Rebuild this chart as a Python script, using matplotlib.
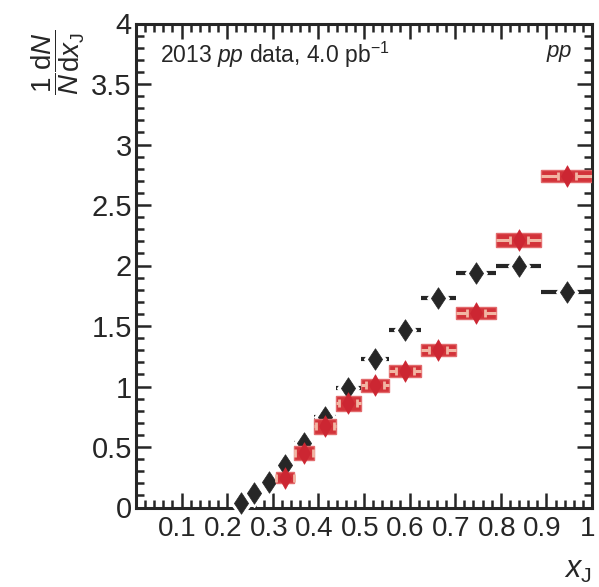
import matplotlib
matplotlib.use("Agg")
import matplotlib.pyplot as plt
import numpy as np
from matplotlib.path import Path
from matplotlib.transforms import offset_copy, ScaledTranslation
from matplotlib.ticker import MultipleLocator, FuncFormatter

plt.rcParams['font.family'] = ['Liberation Sans', 'DejaVu Sans']
plt.rcParams['mathtext.fontset'] = 'custom'
plt.rcParams['mathtext.rm'] = 'Liberation Sans'
plt.rcParams['mathtext.it'] = 'Liberation Sans:italic'

# ---- data ----
bin_edges = [0.216, 0.243, 0.274, 0.308, 0.346, 0.390, 0.438, 0.493,
             0.555, 0.624, 0.702, 0.790, 0.889, 1.0]
black_vals = [0.04, 0.12, 0.21, 0.35, 0.53, 0.75, 0.99, 1.23, 1.47, 1.73,
              1.94, 2.00, 1.78]
red_first_bin = 3
red_vals = [0.245, 0.45, 0.67, 0.86, 1.01, 1.13, 1.30, 1.61, 2.21, 2.74]
red_syst = [0.045, 0.055, 0.065, 0.065, 0.055, 0.05, 0.05, 0.05, 0.055, 0.05]
x_ticks = [0.1, 0.2, 0.3, 0.4, 0.5, 0.6, 0.7, 0.8, 0.9, 1.0]
y_ticks = [0, 0.5, 1, 1.5, 2, 2.5, 3, 3.5, 4]

# ---- styles ----
BLACK = '#262626'
BOX = '#d3333a'
BOX_EDGE = '#e26a6c'
RED_M = '#cc2632'
PALE = '#f2b6a4'

edges = np.array(bin_edges)
lo, hi = edges[:-1], edges[1:]
cent = 0.5 * (lo + hi)
rlo, rhi, rcent = lo[red_first_bin:], hi[red_first_bin:], cent[red_first_bin:]
rv = np.array(red_vals)
rs = np.array(red_syst)

W, H = 599, 587
fig = plt.figure(figsize=(W / 100, H / 100), dpi=100)
ax = fig.add_axes([136 / W, 1 - 507.5 / H, 456 / W, 484 / H])
ax.set_xlim(0, 1)
ax.set_ylim(0, 4)

def diamond(r):
    return Path([(0, 1), (r, 0), (0, -1), (-r, 0), (0, 1)],
                [Path.MOVETO, Path.LINETO, Path.LINETO, Path.LINETO, Path.CLOSEPOLY])

# black points: horizontal bars with a gap around the marker
ax.hlines(black_vals, lo, hi, color=BLACK, lw=3, zorder=3)
ax.plot(cent, black_vals, ls='none', marker=diamond(0.78), ms=20, color='white',
        mec='white', zorder=4, clip_on=False)
ax.plot(cent, black_vals, ls='none', marker=diamond(0.66), ms=15.5, color=BLACK,
        mec=BLACK, mew=0.5, zorder=5, clip_on=False)

# red points with systematic boxes
ax.bar(rcent, 2 * rs, bottom=rv - rs, width=rhi - rlo, color=BOX,
       edgecolor=BOX_EDGE, linewidth=1.0, zorder=6)
ax.hlines(rv, rlo, rhi, color=PALE, lw=2.2, zorder=7)
flat = Path([(-1, -0.2), (1, -0.2), (1, 0.2), (-1, 0.2), (-1, -0.2)],
            [Path.MOVETO, Path.LINETO, Path.LINETO, Path.LINETO, Path.CLOSEPOLY])
ax.plot(rcent, rv, ls='none', marker=flat, ms=13, color=BOX, mec=BOX, zorder=8)
for dx in (-6.5, 6.5):
    tr = offset_copy(ax.transData, fig=fig, x=dx, y=0, units='points')
    ax.plot(rcent, rv, ls='none', marker='|', ms=6, mew=2, color=PALE,
            transform=tr, zorder=9)
ax.plot(rcent, rv, ls='none', marker=diamond(0.55), ms=15.5, color=RED_M,
        mec=RED_M, mew=0.5, zorder=10, clip_on=False)

# axes styling
for s in ax.spines.values():
    s.set_linewidth(2.2)
    s.set_color(BLACK)
    s.set_zorder(2)
ax.set_xticks(x_ticks)
ax.set_yticks(y_ticks)
ax.xaxis.set_minor_locator(MultipleLocator(0.02))
ax.yaxis.set_minor_locator(MultipleLocator(0.1))
fmt = FuncFormatter(lambda v, p: '%g' % v)
ax.xaxis.set_major_formatter(fmt)
ax.yaxis.set_major_formatter(fmt)
ax.tick_params(which='both', direction='in', top=True, right=True,
               width=1.8, color=BLACK, labelcolor=BLACK)
ax.tick_params(axis='x', labelsize=20, pad=6)
ax.tick_params(axis='y', labelsize=21, pad=3)
ax.tick_params(which='major', length=11)
ax.tick_params(which='minor', length=6)
shift = ScaledTranslation(-4 / 100, 0, fig.dpi_scale_trans)
for lab in ax.get_xticklabels():
    lab.set_transform(lab.get_transform() + shift)

ax.text(0.053, 0.935, r'2013 $pp$ data, 4.0 pb$^{\mathregular{-1}}$',
        transform=ax.transAxes, fontsize=16.5, ha='left', va='center', color=BLACK)
ax.text(0.958, 0.937, r'$pp$', transform=ax.transAxes, fontsize=16,
        ha='right', va='center', color=BLACK)

fig.text(58 / W, 1 - 62 / H,
         r'$\dfrac{1}{N}\dfrac{\mathrm{d}N}{\mathrm{d}x_{\mathrm{J}}}$',
         rotation=90, ha='center', va='center', fontsize=20, color=BLACK)
fig.text(592 / W, 1 - 570 / H, r'$x_{\mathrm{J}}$', ha='right', va='center',
         fontsize=22, color=BLACK)

fig.savefig('out.png', dpi=100)
